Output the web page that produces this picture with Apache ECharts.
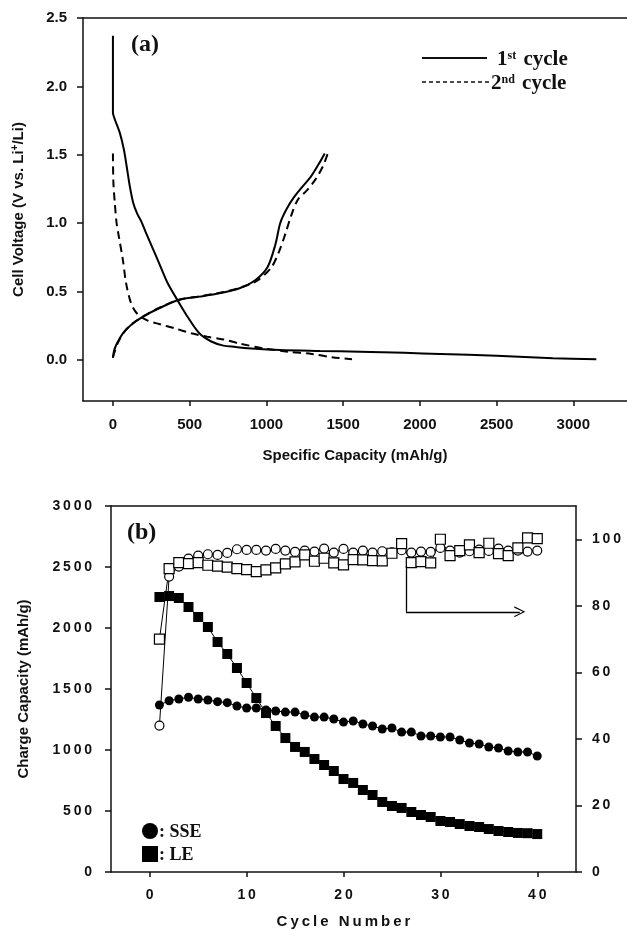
<!DOCTYPE html>
<html>
<head>
<meta charset="utf-8">
<title>Voltage profiles and cycling</title>
<script src="https://cdn.jsdelivr.net/npm/echarts@6/dist/echarts.min.js"></script>
<style>
  html, body { margin: 0; padding: 0; background: #fff; }
  #chart { width: 627px; height: 930px; }
</style>
</head>
<body>
<div id="chart"></div>
<script>
// ---- panel (a): voltage profiles (capacity mAh/g, voltage V)
const dis1Cap = [0, 0, 12, 45, 71, 89, 110, 132, 158, 186, 208, 250, 300, 353, 419, 484, 563, 641, 720, 800, 877, 1087, 1350, 1610, 1900, 2134, 2500, 2867, 3150];
const dis1V   = [2.37, 1.81, 1.76, 1.66, 1.54, 1.42, 1.27, 1.15, 1.07, 1.01, 0.95, 0.84, 0.71, 0.57, 0.44, 0.32, 0.195, 0.135, 0.105, 0.095, 0.085, 0.073, 0.066, 0.06, 0.052, 0.044, 0.03, 0.013, 0.005];
const chg1Cap = [0, 8, 26, 65, 118, 196, 301, 432, 563, 694, 825, 929, 1008, 1060, 1090, 1130, 1180, 1230, 1290, 1340, 1380];
const chg1V   = [0.015, 0.07, 0.12, 0.195, 0.256, 0.317, 0.378, 0.44, 0.463, 0.488, 0.524, 0.585, 0.68, 0.85, 1.0, 1.1, 1.19, 1.26, 1.34, 1.43, 1.51];
const dis2Cap = [0, 3, 12, 24, 39, 65, 86, 118, 157, 223, 301, 406, 511, 615, 720, 825, 982, 1139, 1296, 1427, 1558];
const dis2V   = [1.51, 1.3, 1.15, 1.0, 0.9, 0.73, 0.56, 0.415, 0.34, 0.29, 0.263, 0.23, 0.195, 0.17, 0.15, 0.12, 0.085, 0.06, 0.044, 0.02, 0.005];
const chg2Cap = [0, 30, 70, 120, 200, 300, 430, 560, 690, 820, 940, 1034, 1085, 1126, 1160, 1204, 1264, 1320, 1370, 1400];
const chg2V   = [0.02, 0.12, 0.2, 0.26, 0.32, 0.38, 0.44, 0.465, 0.49, 0.525, 0.58, 0.68, 0.8, 0.93, 1.05, 1.17, 1.24, 1.32, 1.42, 1.51];
const capTicks = [0, 500, 1000, 1500, 2000, 2500, 3000];
const voltTicks = [0, 0.5, 1.0, 1.5, 2.0, 2.5];

// ---- panel (b): cycling (charge capacity mAh/g, coulombic efficiency %)
const cycles = [1, 2, 3, 4, 5, 6, 7, 8, 9, 10, 11, 12, 13, 14, 15, 16, 17, 18, 19, 20,
                21, 22, 23, 24, 25, 26, 27, 28, 29, 30, 31, 32, 33, 34, 35, 36, 37, 38, 39, 40];
const sseCap = [1369, 1404, 1418, 1432, 1418, 1410, 1396, 1388, 1361, 1344, 1344, 1328, 1320, 1311, 1311, 1287, 1270, 1270, 1254, 1229,
                1238, 1213, 1197, 1172, 1180, 1147, 1147, 1115, 1115, 1107, 1107, 1082, 1057, 1049, 1025, 1016, 992, 984, 984, 951];
const leCap  = [2254, 2262, 2246, 2172, 2090, 2008, 1885, 1787, 1672, 1549, 1426, 1303, 1197, 1098, 1025, 984, 926, 877, 828, 762,
                730, 672, 631, 574, 541, 525, 492, 467, 451, 418, 410, 393, 377, 369, 352, 336, 328, 320, 318, 311];
const sseCE  = [44, 88.8, 91.8, 94.2, 95.1, 95.5, 95.3, 95.9, 97, 96.8, 96.8, 96.6, 97.1, 96.6, 96.2, 96.6, 96.3, 97.2, 96, 97.1,
                96, 96.6, 96, 96.4, 96.1, 96.7, 96, 96.3, 96.2, 97.4, 96.6, 96, 96.4, 96.9, 96.5, 97.2, 96.6, 96.6, 96.3, 96.6];
const leCE   = [70, 91.2, 93, 92.7, 93, 92.2, 91.9, 91.6, 91.2, 90.9, 90.3, 90.8, 91.4, 92.6, 93.2, 95.3, 93.4, 94.3, 92.9, 92.3,
                93.9, 93.8, 93.6, 93.5, 95.8, 98.7, 93, 93.3, 92.9, 100, 95.1, 96.6, 98.3, 96, 98.8, 95.7, 95.1, 97.4, 100.4, 100.2];
const cycleTicks = [0, 10, 20, 30, 40];
const capLeftTicks = [0, 500, 1000, 1500, 2000, 2500, 3000];
const ceTicks = [0, 20, 40, 60, 80, 100];

const zip = (a, b) => a.map((v, i) => [v, b[i]]);

const sans = 'Liberation Sans';
const serif = 'Liberation Serif';
const ink = '#111';
const labelFont = {color: ink, fontFamily: sans, fontWeight: 'bold', fontSize: 15};
const nameFont = {color: ink, fontFamily: sans, fontWeight: 'bold', fontSize: 15};
const axisLn = {show: true, onZero: false, lineStyle: {color: ink, width: 1.5}};
const plain = v => String(v);
// panel (b) uses widely tracked lettering
const spaced = v => String(v).split('').join('\u2009');

const myChart = echarts.init(document.getElementById('chart'));

const option = {
    animation: false,
    backgroundColor: '#fff',
    grid: [
        {left: 83, top: 18, right: 0, bottom: 529},
        {left: 111, top: 506, right: 51, bottom: 58}
    ],
    xAxis: [
        {
            gridIndex: 0, type: 'value', min: -195, max: 3350,
            axisLine: axisLn,
            axisTick: {show: true, length: 5, lineStyle: {color: ink, width: 1.5}, customValues: capTicks},
            axisLabel: Object.assign({margin: 16, customValues: capTicks, formatter: plain}, labelFont),
            splitLine: {show: false},
            name: 'Specific Capacity (mAh/g)', nameLocation: 'middle', nameGap: 47,
            nameTextStyle: nameFont
        },
        {
            gridIndex: 0, type: 'value', position: 'top', min: -195, max: 3350,
            axisLine: axisLn, axisTick: {show: false}, axisLabel: {show: false}, splitLine: {show: false}
        },
        {
            gridIndex: 1, type: 'value', min: -4, max: 44,
            axisLine: axisLn,
            axisTick: {show: true, length: 5, lineStyle: {color: ink, width: 1.5}, customValues: cycleTicks},
            axisLabel: Object.assign({margin: 16, customValues: cycleTicks, formatter: spaced}, labelFont, {fontSize: 14}),
            splitLine: {show: false},
            name: spaced('Cycle Number'), nameLocation: 'middle', nameGap: 42,
            nameTextStyle: nameFont
        },
        {
            gridIndex: 1, type: 'value', position: 'top', min: -4, max: 44,
            axisLine: axisLn, axisTick: {show: false}, axisLabel: {show: false}, splitLine: {show: false}
        }
    ],
    yAxis: [
        {
            gridIndex: 0, type: 'value', min: -0.3, max: 2.5,
            axisLine: axisLn,
            axisTick: {show: true, length: 6, lineStyle: {color: ink, width: 1.5}, customValues: voltTicks},
            axisLabel: Object.assign({margin: 16, customValues: voltTicks, formatter: v => v.toFixed(1)}, labelFont),
            splitLine: {show: false},
            name: 'Cell Voltage (V vs. Li{sup|+}/Li)', nameLocation: 'middle', nameGap: 55, nameRotate: 90,
            nameTextStyle: Object.assign({}, nameFont, {
                rich: {sup: {fontFamily: sans, fontWeight: 'bold', fontSize: 10, color: ink, verticalAlign: 'top', padding: [0, 0, 8, 0]}}
            })
        },
        {
            gridIndex: 1, type: 'value', min: 0, max: 3000,
            axisLine: axisLn,
            axisTick: {show: true, length: 6, lineStyle: {color: ink, width: 1.5}, customValues: capLeftTicks},
            axisLabel: Object.assign({margin: 19, customValues: capLeftTicks, formatter: spaced}, labelFont, {fontSize: 14}),
            splitLine: {show: false},
            name: 'Charge Capacity (mAh/g)', nameLocation: 'middle', nameGap: 80, nameRotate: 90,
            nameTextStyle: nameFont
        },
        {
            gridIndex: 1, type: 'value', position: 'right', min: 0, max: 110,
            axisLine: axisLn,
            axisTick: {show: true, length: 6, lineStyle: {color: ink, width: 1.5}, customValues: ceTicks},
            axisLabel: Object.assign({margin: 16, customValues: ceTicks, formatter: spaced}, labelFont, {fontSize: 14}),
            splitLine: {show: false}
        }
    ],
    graphic: [
        {type: 'text', x: 131, y: 45, style: {text: '(a)', font: 'bold 24px "Liberation Serif"', fill: ink, verticalAlign: 'middle'}},
        {type: 'text', x: 127, y: 533, style: {text: '(b)', font: 'bold 24px "Liberation Serif"', fill: ink, verticalAlign: 'middle'}},
        {type: 'line', shape: {x1: 422, y1: 58, x2: 487, y2: 58}, style: {stroke: ink, lineWidth: 2}},
        {type: 'line', shape: {x1: 422, y1: 82, x2: 490, y2: 82}, style: {stroke: ink, lineWidth: 1.5, lineDash: [4, 3]}},
        {type: 'text', x: 497, y: 60, style: {
            text: '1{sup|st} cycle', font: 'bold 21px "Liberation Serif"', fill: ink, verticalAlign: 'middle',
            rich: {sup: {fontFamily: serif, fontWeight: 'bold', fontSize: 12, fill: ink, verticalAlign: 'top', padding: [0, 2, 8, 0]}}
        }},
        {type: 'text', x: 491, y: 84, style: {
            text: '2{sup|nd} cycle', font: 'bold 21px "Liberation Serif"', fill: ink, verticalAlign: 'middle',
            rich: {sup: {fontFamily: serif, fontWeight: 'bold', fontSize: 12, fill: ink, verticalAlign: 'top', padding: [0, 2, 8, 0]}}
        }},
        {type: 'circle', shape: {cx: 150, cy: 831, r: 8}, style: {fill: '#000'}},
        {type: 'rect', shape: {x: 142, y: 846, width: 16, height: 16}, style: {fill: '#000'}},
        {type: 'text', x: 159, y: 832, style: {text: ': SSE', font: 'bold 18px "Liberation Serif"', fill: ink, verticalAlign: 'middle'}},
        {type: 'text', x: 159, y: 855, style: {text: ': LE', font: 'bold 18px "Liberation Serif"', fill: ink, verticalAlign: 'middle'}}
    ],
    series: [
        {
            name: '1st cycle discharge', type: 'line', xAxisIndex: 0, yAxisIndex: 0,
            data: zip(dis1Cap, dis1V), showSymbol: false, smooth: 0.3,
            lineStyle: {color: '#000', width: 2}
        },
        {
            name: '1st cycle charge', type: 'line', xAxisIndex: 0, yAxisIndex: 0,
            data: zip(chg1Cap, chg1V), showSymbol: false, smooth: 0.3,
            lineStyle: {color: '#000', width: 2}
        },
        {
            name: '2nd cycle discharge', type: 'line', xAxisIndex: 0, yAxisIndex: 0,
            data: zip(dis2Cap, dis2V), showSymbol: false, smooth: 0.3,
            lineStyle: {color: '#000', width: 2, type: [8, 5]}
        },
        {
            name: '2nd cycle charge', type: 'line', xAxisIndex: 0, yAxisIndex: 0,
            data: zip(chg2Cap, chg2V), showSymbol: false, smooth: 0.3,
            lineStyle: {color: '#000', width: 2, type: [8, 5]}
        },
        {
            name: 'SSE efficiency', type: 'line', xAxisIndex: 2, yAxisIndex: 2,
            data: zip(cycles, sseCE), symbol: 'circle', symbolSize: 9,
            itemStyle: {color: '#fff', borderColor: '#000', borderWidth: 1.2},
            lineStyle: {color: '#000', width: 1}
        },
        {
            name: 'LE efficiency', type: 'line', xAxisIndex: 2, yAxisIndex: 2,
            data: zip(cycles, leCE), symbol: 'rect', symbolSize: 10,
            itemStyle: {color: '#fff', borderColor: '#000', borderWidth: 1.2},
            lineStyle: {color: '#000', width: 1},
            markLine: {
                silent: true, animation: false,
                symbol: ['none', 'none'],
                label: {show: false},
                lineStyle: {color: '#000', width: 1.3, type: 'solid'},
                data: [
                    [{coord: [26.45, 92]}, {coord: [26.45, 78.2]}],
                    [{coord: [26.45, 78.2]}, {coord: [38.2, 78.2], symbol: 'path://M0,12 L5,0 L10,12 L8.8,12 L5,2.6 L1.2,12 Z', symbolSize: [11, 11]}]
                ]
            }
        },
        {
            name: 'SSE', type: 'line', xAxisIndex: 2, yAxisIndex: 1,
            data: zip(cycles, sseCap), symbol: 'circle', symbolSize: 9,
            itemStyle: {color: '#000'},
            lineStyle: {color: '#000', width: 1}
        },
        {
            name: 'LE', type: 'line', xAxisIndex: 2, yAxisIndex: 1,
            data: zip(cycles, leCap), symbol: 'rect', symbolSize: 10,
            itemStyle: {color: '#000'},
            lineStyle: {color: '#000', width: 1}
        }
    ]
};

myChart.setOption(option);
</script>
</body>
</html>
